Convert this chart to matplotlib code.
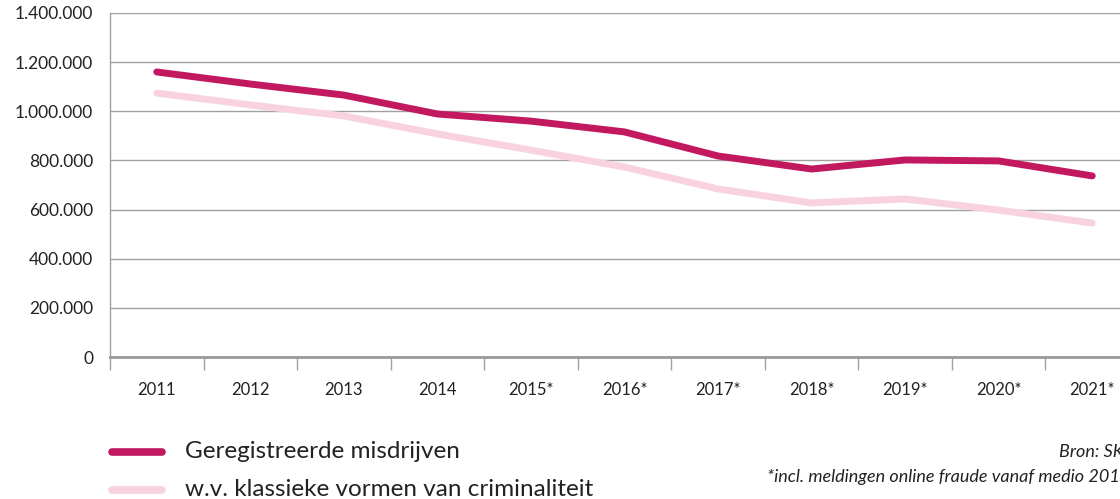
import matplotlib
matplotlib.use("Agg")
import matplotlib.pyplot as plt
from matplotlib.lines import Line2D
from matplotlib.ticker import FuncFormatter, FixedLocator

plt.rcParams['font.family'] = ['Lato', 'DejaVu Sans']

categories = ['2011', '2012', '2013', '2014', '2015*', '2016*', '2017*', '2018*', '2019*', '2020*', '2021*']
geregistreerd = [1160000, 1111000, 1066000, 989000, 960000, 916000, 818000, 765000, 802000, 798000, 737000]
klassiek = [1074000, 1026000, 981000, 908000, 842000, 773000, 684000, 627000, 643000, 598000, 545000]
series_labels = ['Geregistreerde misdrijven', 'w.v. klassieke vormen van criminaliteit']
yticks = [0, 200000, 400000, 600000, 800000, 1000000, 1200000, 1400000]

dark = '#c2185f'
light = '#f8d2dd'
grid = '#a0a0a0'

W, H = 1120, 499
fig = plt.figure(figsize=(W / 100, H / 100), dpi=100)
ax = fig.add_axes([110 / W, (H - 357) / H, (1139 - 110) / W, 344 / H])

x = list(range(len(categories)))
ax.plot(x, klassiek, color=light, lw=5, solid_capstyle='round', solid_joinstyle='round', zorder=3)
ax.plot(x, geregistreerd, color=dark, lw=5, solid_capstyle='round', solid_joinstyle='round', zorder=4)

ax.set_xlim(-0.5, len(categories) - 0.5)
ax.set_ylim(0, 1400000)
ax.set_yticks(yticks)
ax.yaxis.set_major_formatter(FuncFormatter(lambda v, p: f"{int(v):,}".replace(',', '.')))
ax.tick_params(axis='y', length=0, pad=12, labelsize=12.5, labelcolor='#222222')
ax.grid(axis='y', color=grid, lw=1)
ax.set_axisbelow(True)

ax.xaxis.set_major_locator(FixedLocator([i - 0.5 for i in range(len(categories) + 1)]))
ax.xaxis.set_major_formatter(FuncFormatter(lambda v, p: ''))
ax.xaxis.set_minor_locator(FixedLocator(x))
ax.set_xticklabels(categories, minor=True)
ax.tick_params(axis='x', which='major', length=9, width=1, color=grid, direction='out')
ax.tick_params(axis='x', which='minor', length=0, pad=18, labelsize=12, labelcolor='#222222')

for s in ['top', 'right']:
    ax.spines[s].set_visible(False)
ax.spines['left'].set_color(grid)
ax.spines['left'].set_linewidth(1)
ax.spines['bottom'].set_color('#999999')
ax.spines['bottom'].set_linewidth(2)

# legend
for yy, col, lab in [(452, dark, series_labels[0]), (490, light, series_labels[1])]:
    fy = (H - yy) / H
    fig.add_artist(Line2D([112 / W, 162 / W], [fy, fy], transform=fig.transFigure,
                          color=col, lw=5.5, solid_capstyle='round'))
    fig.text(185 / W, fy, lab, fontsize=17.5, va='center', ha='left', color='#222222')

fig.text(1059 / W, (H - 452) / H, 'Bron: SKM', fontsize=13, style='italic', va='center', ha='left', color='#222222')
fig.text(767 / W, (H - 477) / H, '*incl. meldingen online fraude vanaf medio 2016', fontsize=13,
         style='italic', va='center', ha='left', color='#222222')

fig.savefig('out.png', dpi=100)
